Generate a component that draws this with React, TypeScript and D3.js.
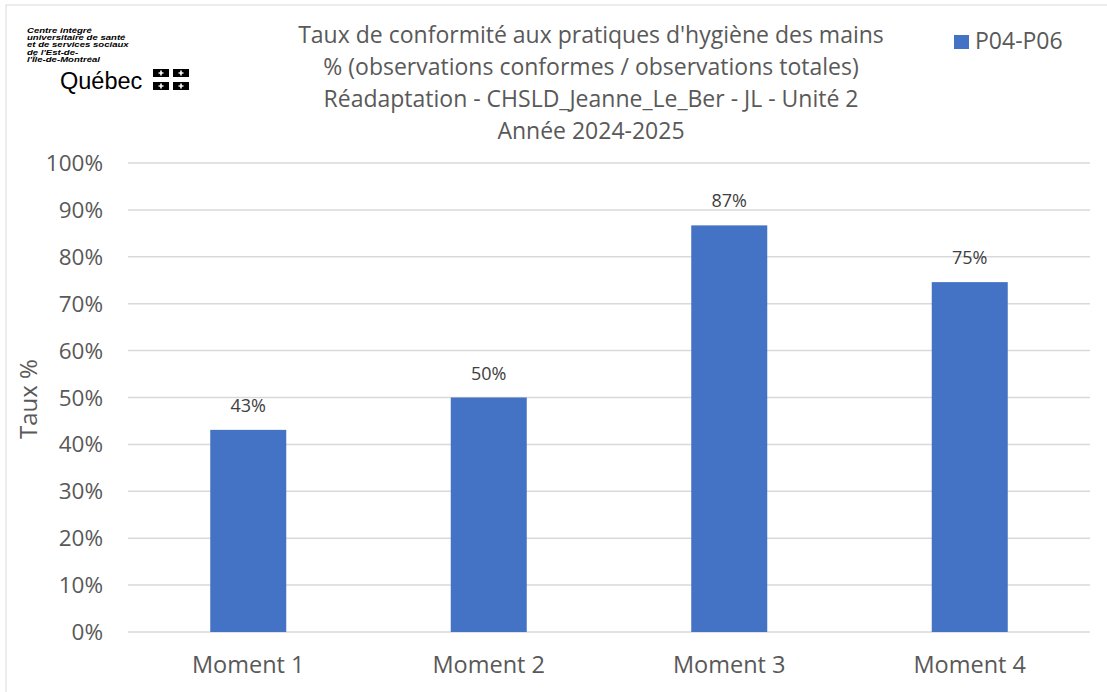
import React from "react";
import * as d3 from "d3";

const categories = ["Moment 1", "Moment 2", "Moment 3", "Moment 4"];
const values = [0.431, 0.5, 0.867, 0.746];
const valueLabels = ["43%", "50%", "87%", "75%"];
const yTicks = [0, 0.1, 0.2, 0.3, 0.4, 0.5, 0.6, 0.7, 0.8, 0.9, 1.0];
const seriesName = "P04-P06";
const titleLines = [
  "Taux de conformité aux pratiques d'hygiène des mains",
  "% (observations conformes / observations totales)",
  "Réadaptation - CHSLD_Jeanne_Le_Ber - JL - Unité 2",
  "Année 2024-2025",
];
const logoLines = [
  "Centre intégré",
  "universitaire de santé",
  "et de services sociaux",
  "de l'Est-de-",
  "l'Île-de-Montréal",
];

const W = 1107;
const H = 692;
const FONT = "'Open Sans', sans-serif";
const TXT = "#595959";
const BAR = "#4472C4";

export default function App() {
  const x = d3.scaleBand<string>().domain(categories).range([128, 1090]).paddingInner(0.684).paddingOuter(0.342);
  const y = d3.scaleLinear().domain([0, 1]).range([632, 163]);
  const fmt = d3.format(".0%");
  return (
    <svg width={W} height={H} style={{ position: "absolute", left: 0, top: 0, background: "#fff" }} fontFamily={FONT}>
      <rect x={6} y={5} width={1110} height={700} fill="#fff" stroke="#d9d9d9" strokeWidth={1} />
      {/* logo */}
      <g transform="translate(27,0) scale(1.33,1)">
        {logoLines.map((l, i) => (
          <text key={i} x={0} y={32.8 + i * 7.3} fontSize={7.2} fontWeight="bold" fontStyle="italic" fontFamily="'Liberation Sans', Arial, sans-serif" fill="#000">
            {l}
          </text>
        ))}
      </g>
      <text x={60} y={89} fontSize={23.5} fill="#000" fontFamily="'Liberation Sans', sans-serif">Québec</text>
      {[0, 1].map((r) =>
        [0, 1].map((c) => (
          <g key={`${r}-${c}`}>
            <rect x={153 + c * 20} y={69 + r * 13} width={16} height={8} fill="#000" />
            <rect x={160.2 + c * 20} y={70.5 + r * 13} width={1.6} height={5} fill="#fff" />
            <rect x={158.5 + c * 20} y={72.3 + r * 13} width={5} height={1.4} fill="#fff" />
          </g>
        ))
      )}
      {/* title */}
      {titleLines.map((t, i) => (
        <text key={i} x={591} y={43 + i * 32} textAnchor="middle" fontSize={23} fill={TXT}>
          {t}
        </text>
      ))}
      {/* legend */}
      <rect x={954} y={35} width={15} height={14} fill={BAR} />
      <text x={975} y={49} fontSize={23} fill={TXT}>{seriesName}</text>
      {/* gridlines */}
      {yTicks.map((t) => (
        <g key={t}>
          <line x1={128} x2={1090} y1={y(t)} y2={y(t)} stroke="#d9d9d9" strokeWidth={1.5} />
          <text x={103} y={y(t) + 8} textAnchor="end" fontSize={22.5} fill={TXT}>
            {fmt(t)}
          </text>
        </g>
      ))}
      {/* bars */}
      {categories.map((c, i) => (
        <g key={c}>
          <rect x={x(c)} y={y(values[i])} width={x.bandwidth()} height={y(0) - y(values[i])} fill={BAR} />
          <text x={(x(c) as number) + x.bandwidth() / 2} y={y(values[i]) - 18} textAnchor="middle" fontSize={18} fill="#404040">
            {valueLabels[i]}
          </text>
          <text x={(x(c) as number) + x.bandwidth() / 2} y={673} textAnchor="middle" fontSize={23.5} fill={TXT}>
            {c}
          </text>
        </g>
      ))}
      {/* y axis title */}
      <text transform={`translate(37,399) rotate(-90)`} textAnchor="middle" fontSize={24} fill={TXT}>
        Taux %
      </text>
    </svg>
  );
}
